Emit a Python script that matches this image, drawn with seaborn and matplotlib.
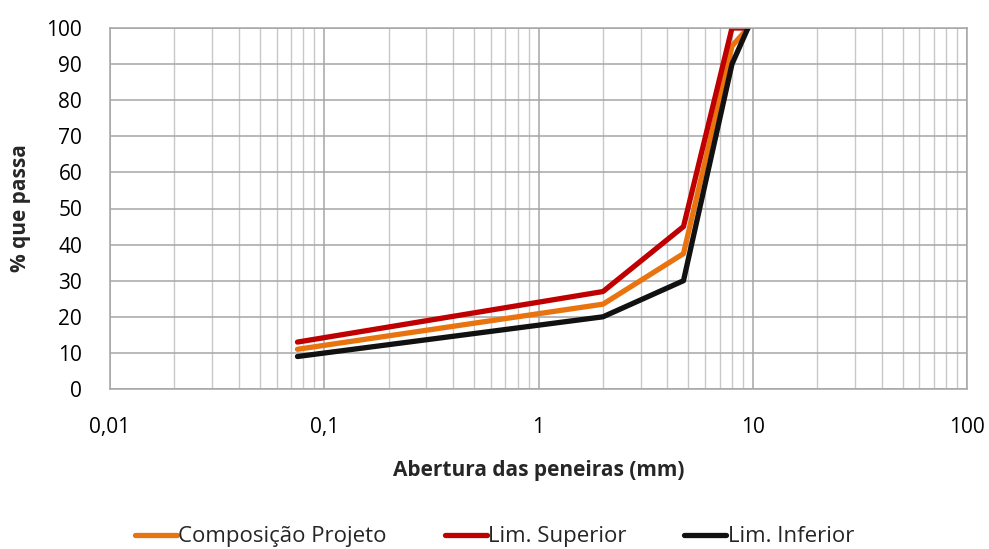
import matplotlib
matplotlib.use("Agg")
import matplotlib.pyplot as plt
import matplotlib.ticker as mticker
import numpy as np
import pandas as pd
import seaborn as sns

# Sieve openings (mm) and percent passing for each curve
abertura = [0.075, 2.0, 4.75, 8.0, 9.5]
composicao_projeto = [11, 23.5, 37.5, 95, 100]
lim_superior = [13, 27, 45, 100, 100]
lim_inferior = [9, 20, 30, 90, 100]

series_names = ["Composição Projeto", "Lim. Superior", "Lim. Inferior"]
series_colors = ["#E8730F", "#C00000", "#111111"]

x_ticks = [0.01, 0.1, 1, 10, 100]
x_tick_labels = ["0,01", "0,1", "1", "10", "100"]
y_ticks = list(range(0, 101, 10))

rows = []
for name, vals in zip(series_names, [composicao_projeto, lim_superior, lim_inferior]):
    for a, v in zip(abertura, vals):
        rows.append({"abertura": a, "passa": v, "serie": name})
df = pd.DataFrame(rows)

sns.set_theme(style="white")
plt.rcParams["font.family"] = ["Open Sans", "DejaVu Sans"]

fig = plt.figure(figsize=(9.89, 5.49), dpi=100)
ax = fig.add_axes([110 / 989, 1 - 389 / 549, (967 - 110) / 989, (389 - 28) / 549])

sns.lineplot(data=df, x="abertura", y="passa", hue="serie", hue_order=series_names,
             palette=dict(zip(series_names, series_colors)), sort=False,
             linewidth=3.8, ax=ax, legend=False)

ax.set_xscale("log")
ax.set_xlim(0.01, 100)
ax.set_ylim(0, 100)
ax.set_xticks(x_ticks)
ax.set_xticklabels(x_tick_labels)
ax.xaxis.set_minor_locator(mticker.LogLocator(base=10, subs=np.arange(2, 10)))
ax.xaxis.set_minor_formatter(mticker.NullFormatter())
ax.set_yticks(y_ticks)

ax.grid(True, which="major", axis="both", color="#a6a6a6", linewidth=1.1)
ax.grid(True, which="minor", axis="x", color="#c8c8c8", linewidth=1.0)
ax.set_axisbelow(True)
for s in ax.spines.values():
    s.set_color("#a6a6a6")
    s.set_linewidth(1.1)

ax.tick_params(axis="both", which="both", length=0, labelsize=15, colors="black")
ax.tick_params(axis="x", pad=20)
ax.tick_params(axis="y", pad=20)

ax.set_xlabel("Abertura das peneiras (mm)", fontsize=15, fontweight="bold", labelpad=16)
ax.set_ylabel("% que passa", fontsize=15, fontweight="bold")
ax.yaxis.set_label_coords(-0.092, 0.5)

handles = [plt.Line2D([0], [0], color=c, linewidth=3.8) for c in series_colors]
fig.legend(handles, series_names, loc="center", bbox_to_anchor=(0.5, 0.022),
           ncol=3, frameon=False, fontsize=16, handlelength=1.9, handletextpad=0.05,
           columnspacing=2.6)

fig.savefig("out.png", dpi=100)
